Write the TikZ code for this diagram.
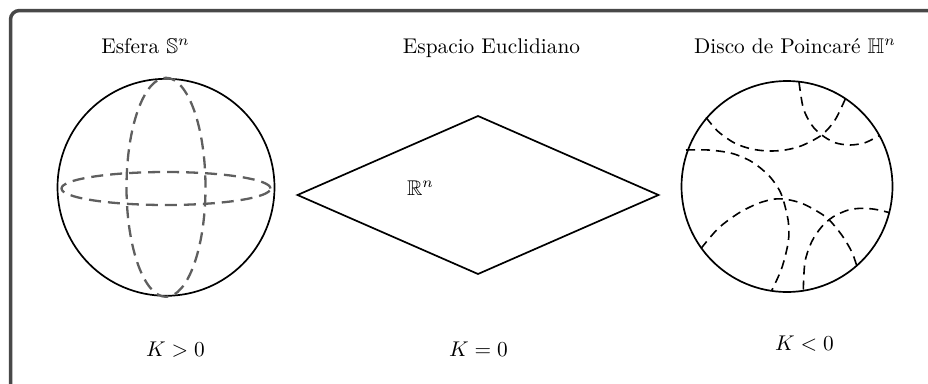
\documentclass[tikz,border=0pt]{standalone}
\usepackage{amssymb}
\definecolor{framegray}{RGB}{72,72,72}
\definecolor{sphgray}{RGB}{95,95,95}
\begin{document}
\begin{tikzpicture}[x=1pt,y=-1pt,
  lbl/.style={inner sep=0pt, anchor=base, scale=2.13},
  framebox/.style={draw=framegray, line width=3.5pt, rounded corners=9pt},
  solidline/.style={line width=1.7pt},
  sphdash/.style={draw=sphgray, line width=2.3pt, dash pattern=on 12pt off 7pt},
  hypdash/.style={line width=1.6pt, dash pattern=on 9pt off 6pt}]
\useasboundingbox (0,0) rectangle (928,383);
\clip (0,0) rectangle (928,383);
\coordinate (fb) at (10.5,400);
\coordinate (fc) at (10.5,10.5);
\coordinate (fr) at (940,10.5);
\draw[framebox] (fb) -- (fc) -- (fr);

% sphere
\coordinate (sc) at (166,187.3);
\coordinate (eq) at (166,188.5);
\draw[solidline] (sc) circle[radius=108.5pt];
\draw[sphdash] (eq) ellipse[x radius=104.5pt, y radius=16.5pt];
\draw[sphdash] (sc) ellipse[x radius=39.5pt, y radius=109.5pt];

% Euclidean plane
\coordinate (dl) at (297.5,195);
\coordinate (dt) at (478,116);
\coordinate (dr) at (658.5,195);
\coordinate (db) at (478,274);
\draw[solidline, line join=miter] (dl) -- (dt) -- (dr) -- (db) -- cycle;

% Poincare disk
\coordinate (hc) at (787,186.5);
\draw[solidline] (hc) circle[radius=105.5pt];
\draw[hypdash] plot[smooth] coordinates {(799,82) (803.3,108.3) (811.7,125) (821.7,135) (835,142.7) (850,145) (865,142.7) (879.5,135.5)};
\draw[hypdash] plot[smooth] coordinates {(706,117.5) (718.3,131.7) (735,143.3) (751.7,149) (768.3,151) (785,150) (801.7,145.7) (821.7,135) (835,120) (845.5,98.5)};
\draw[hypdash] plot[smooth] coordinates {(686,150) (708.3,150) (731.7,153.3) (751.7,161.7) (768.3,175) (778.3,188.3) (783.3,200) (788.3,221.7) (788.3,241.7) (781.7,268.3) (771.5,291)};
\draw[hypdash] plot[smooth] coordinates {(701,248.5) (718.3,228.3) (738.3,213.3) (758.3,203.3) (775,199) (788.3,199.7) (801.7,203.3) (815,210) (828.3,219) (841.7,235) (851.7,251.7) (857,266.5)};
\draw[hypdash] plot[smooth] coordinates {(803.3,289.5) (805,261.7) (811.7,241.7) (821.7,226.7) (833.3,216.7) (848.3,210) (861.7,208.3) (875,209.3) (889,212.5)};

% labels
\node[lbl] (t1) at (145.5,53) {Esfera $\mathbb{S}^n$};
\node[lbl] (t2) at (491.5,53) {Espacio Euclidiano};
\node[lbl] (t3) at (795,53) {Disco de Poincar\'e $\mathbb{H}^n$};
\node[lbl] (rn) at (420.5,195.5) {$\mathbb{R}^n$};
\node[lbl] (k1) at (175.5,356) {$K>0$};
\node[lbl] (k2) at (478.5,356) {$K=0$};
\node[lbl] (k3) at (804.5,350) {$K<0$};
\end{tikzpicture}
\end{document}
